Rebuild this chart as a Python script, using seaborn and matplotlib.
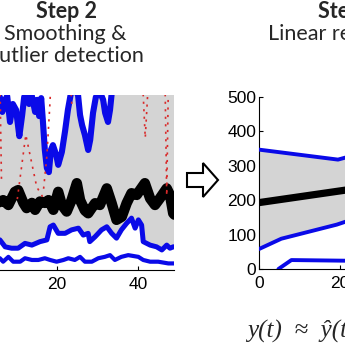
import numpy as np
import pandas as pd
import matplotlib
matplotlib.use("Agg")
import matplotlib.pyplot as plt
import seaborn as sns
from matplotlib.patches import Polygon

# ---------------- data: Step 2 (smoothing & outlier detection) ----------------
s2_median_t = [0, 2, 4, 5.9, 6.7, 8.0, 9.6, 10.4, 11.7, 12.5, 13.8, 14.6, 15.8, 17.0, 17.9, 18.3,
               19.1, 20.3, 21.2, 22.4, 23.6, 24.9, 25.7, 26.9, 27.7, 29.4, 30.6, 32.3, 33.5, 34.7,
               36.0, 37.2, 38.4, 39.7, 40.5, 41.7, 43.0, 44.2, 45.4, 47.1, 47.9, 48.7, 49.0]
s2_median_v = [190, 215, 185, 197, 202, 188, 226, 231, 194, 179, 194, 174, 198, 194, 202, 194,
               174, 226, 188, 169, 202, 251, 202, 172, 164, 193, 188, 236, 193, 145,
               154, 193, 222, 217, 231, 251, 207, 188, 207, 236, 217, 164, 160]

s2_lower_t = [0, 2, 4, 5.9, 7.2, 8.8, 10.4, 12.1, 13.8, 15.8, 17.5, 18.3, 19.1, 20.3, 22.0, 23.6,
              25.3, 26.5, 27.7, 28.1, 29.4, 31.0, 32.3, 33.5, 34.7, 35.9, 37.2, 38.4, 39.3, 40.1,
              40.9, 41.3, 43.0, 44.6, 45.9, 47.1, 47.9, 48.7, 49.0]
s2_lower_v = [80, 95, 90, 87, 67, 63, 63, 77, 72, 82, 87, 125, 130, 106, 106, 116,
              121, 101, 106, 82, 96, 116, 125, 106, 92, 116, 135, 150, 121, 145,
              130, 82, 72, 67, 58, 72, 63, 67, 67]

s2_upper_t = [0, 2, 4, 5.9, 6.5, 7.2, 7.7, 8.4, 9.1, 9.9, 10.7, 11.4, 11.9, 12.4, 13.1, 13.8, 14.6,
              15.1, 15.6, 16.1, 16.5, 17.0, 17.5, 18.0, 18.5, 19.0, 19.8, 20.3, 21.2, 22.0, 22.7,
              23.5, 24.4, 25.2, 25.7, 26.2, 26.9, 27.7, 28.2, 28.9, 29.6, 30.6, 31.4, 31.9, 32.6,
              33.1, 33.6, 34.3, 38.0, 49.0]
s2_upper_v = [520, 480, 510, 500, 457, 492, 503, 428, 480, 463, 387, 448, 500, 512, 480, 503, 457,
              492, 445, 497, 434, 347, 295, 283, 347, 361, 333, 304, 341, 402, 463,
              515, 521, 506, 448, 419, 390, 347, 376, 454, 500, 515, 492, 454, 428,
              463, 521, 549, 607, 607]

s2_bottom_t = [0, 2, 4, 5.9, 6.7, 8.0, 9.2, 10.9, 12.1, 13.8, 15.4, 17.0, 18.3, 19.9, 21.6, 22.8,
               24.4, 25.7, 26.9, 28.6, 30.2, 31.8, 33.1, 34.3, 35.9, 37.6, 40.1, 41.3, 43.0, 45.0,
               47.5, 49.0]
s2_bottom_v = [30, 28, 35, 34, 24, 38, 24, 24, 34, 29, 29, 34, 29, 24, 29, 34,
               29, 38, 24, 24, 34, 38, 43, 29, 38, 43, 38, 29, 24, 24,
               19, 19]

# outlier traces (red dashed)
outlier_1_t = [5.95, 6.1, 6.3]
outlier_1_v = [530, 400, 255]
outlier_2_t = [10.2, 12.3, 15.0, 16.8]
outlier_2_v = [205, 391, 240, 205]
outlier_3_t = [16.7, 17.5, 18.3, 18.4]
outlier_3_v = [235, 330, 490, 530]
outlier_4_t = [23.4, 23.7]
outlier_4_v = [530, 470]
outlier_5_t = [41.2, 41.8, 42.5]
outlier_5_v = [530, 382, 530]
outlier_6_t = [46.7, 47.1, 47.5]
outlier_6_v = [530, 215, 530]

# ---------------- data: Step 3 (linear regression) ----------------
s3_fit_t = [0, 50]
s3_fit_v = [193, 278]
s3_upper_t = [0, 19.5, 22, 50]
s3_upper_v = [347, 318, 326, 370]
s3_lower_t = [0, 5.5, 19.2, 22, 50]
s3_lower_v = [58, 88, 129, 140, 200]
s3_bottom_t = [4.8, 8, 22, 50]
s3_bottom_v = [0, 26, 24, 24]

yticks = [0, 100, 200, 300, 400, 500]
xticks = [0, 20, 40]

BLUE = "#0a0ae8"
GREY = "#d4d4d4"
RED = "#d82a2a"

sns.set_style("white")
plt.rcParams["font.family"] = ["Liberation Sans", "DejaVu Sans"]

W = H = 345.0
fig = plt.figure(figsize=(3.45, 3.45), dpi=100)


def box(l, t, r, b):
    return [l / W, 1 - b / H, (r - l) / W, (b - t) / H]


def line(ax, x, y, **kw):
    df = pd.DataFrame({"t": x, "v": y})
    sns.lineplot(data=df, x="t", y="v", ax=ax, sort=False, estimator=None, legend=False, **kw)


def style(ax):
    for s in ["top", "right"]:
        ax.spines[s].set_visible(False)
    for s in ["left", "bottom"]:
        ax.spines[s].set_color("black")
        ax.spines[s].set_linewidth(0.8)
    ax.tick_params(direction="in", length=3, width=0.8, labelsize=12.5, pad=2,
                   left=True, bottom=True, colors="black")
    ax.tick_params(axis="x", pad=5)
    ax.set_xlabel("")
    ax.set_ylabel("")
    ax.set_facecolor("white")


# ---- left panel ----
ax1 = fig.add_axes(box(-24, 95, 174, 270))
ax1.fill(np.concatenate([s2_upper_t, s2_lower_t[::-1]]),
         np.concatenate([s2_upper_v, s2_lower_v[::-1]]), color=GREY, lw=0, zorder=1)
line(ax1, s2_bottom_t, s2_bottom_v, color=BLUE, lw=3.0, zorder=3)
line(ax1, s2_lower_t, s2_lower_v, color=BLUE, lw=3.6, zorder=3)
line(ax1, s2_upper_t, s2_upper_v, color=BLUE, lw=4.4, zorder=3)
line(ax1, s2_median_t, s2_median_v, color="black", lw=7.5, zorder=4)
for ot, ov in [(outlier_1_t, outlier_1_v), (outlier_2_t, outlier_2_v), (outlier_3_t, outlier_3_v),
               (outlier_4_t, outlier_4_v), (outlier_5_t, outlier_5_v), (outlier_6_t, outlier_6_v)]:
    line(ax1, ot, ov, color=RED, lw=1.2, zorder=5, linestyle=(0, (1.3, 3.2)))
ax1.set_xlim(0, 48.9)
ax1.set_ylim(0, 506)
ax1.set_xticks([20, 40])
ax1.set_yticks(yticks)
style(ax1)
ax1.tick_params(axis="y", labelleft=False)

# ---- right panel ----
ax2 = fig.add_axes(box(259, 97, 461.5, 269))
ax2.fill(np.concatenate([s3_upper_t, s3_lower_t[::-1]]),
         np.concatenate([s3_upper_v, s3_lower_v[::-1]]), color=GREY, lw=0, zorder=1)
line(ax2, s3_bottom_t, s3_bottom_v, color=BLUE, lw=2.8, zorder=3)
line(ax2, s3_lower_t, s3_lower_v, color=BLUE, lw=2.8, zorder=3)
line(ax2, s3_upper_t, s3_upper_v, color=BLUE, lw=2.8, zorder=3)
line(ax2, s3_fit_t, s3_fit_v, color="black", lw=5.2, zorder=4)
ax2.set_xlim(0, 50)
ax2.set_ylim(0, 500)
ax2.set_xticks(xticks)
ax2.set_yticks(yticks)
style(ax2)
for a in (ax1, ax2):
    for lab in a.get_xticklabels() + a.get_yticklabels():
        lab.set_fontfamily("Liberation Sans")

# ---- titles ----
TF = ["Lato", "DejaVu Sans"]
fig.text(66 / W, 1 - 11 / H, "Step 2", ha="center", va="center", fontsize=15.5,
         fontweight="bold", family=TF)
fig.text(65 / W, 1 - 34 / H, "Smoothing &", ha="center", va="center", fontsize=15.5, family=TF)
fig.text(144 / W, 1 - 56 / H, "Outlier detection", ha="right", va="center", fontsize=15.5, family=TF)
fig.text(318 / W, 1 - 11 / H, "Step 3", ha="left", va="center", fontsize=15.5,
         fontweight="bold", family=TF)
fig.text(268 / W, 1 - 34 / H, "Linear regression", ha="left", va="center", fontsize=15.5, family=TF)

# ---- arrow between panels ----
arrow_px = [(187, 173), (203, 173), (203, 163), (218, 180), (203, 197), (203, 187), (187, 187)]
fig.patches.append(Polygon([(x / W, 1 - y / H) for x, y in arrow_px], closed=True,
                           facecolor="white", edgecolor="black", lw=1.5,
                           transform=fig.transFigure, figure=fig))

# ---- equation ----
fig.text(247 / W, 1 - 331 / H, "y(t)  \u2248  \u0177(t)",
         ha="left", va="center", fontsize=18, style="italic",
         family=["Liberation Serif", "DejaVu Serif"])

fig.savefig("out.png", dpi=100)
